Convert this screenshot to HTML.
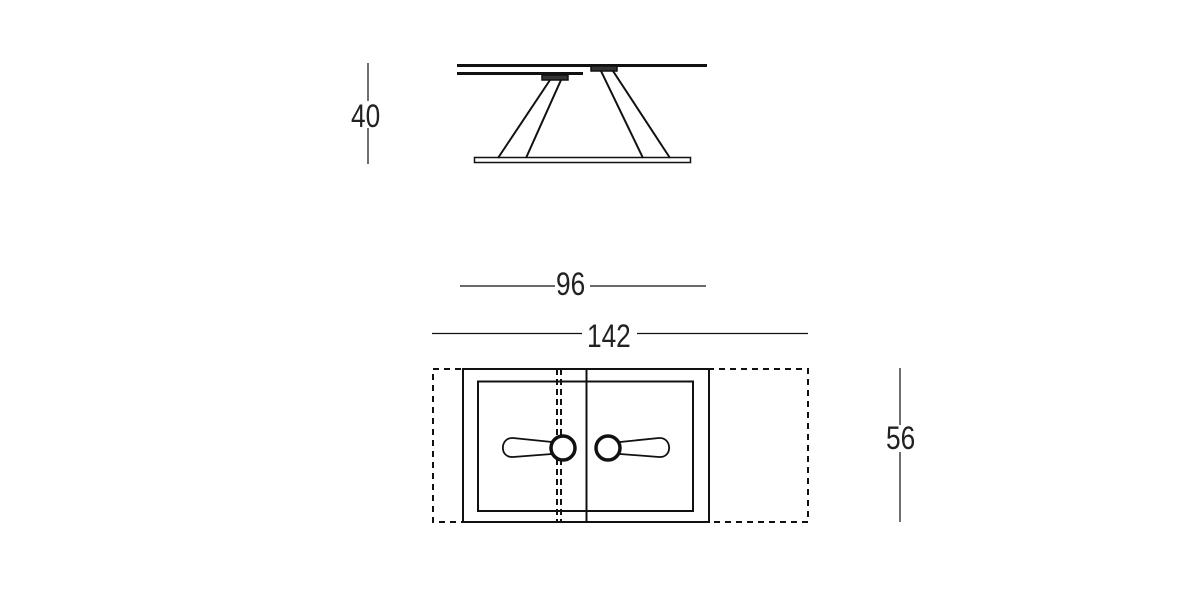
<!DOCTYPE html>
<html><head><style>
html,body{margin:0;padding:0;background:#fff;}
svg{display:block;}
text{font-family:"Liberation Sans",sans-serif;font-size:32px;fill:#222;}
</style></head><body>
<svg width="1200" height="600" viewBox="0 0 1200 600" xmlns="http://www.w3.org/2000/svg">
<g stroke="#111" fill="none">
<!-- side view -->
<line x1="457" y1="65.5" x2="707" y2="65.5" stroke-width="3"/>
<line x1="457" y1="73.5" x2="583" y2="73.5" stroke-width="3"/>
<rect x="591" y="66" width="26" height="5" fill="#333" stroke-width="1.5"/>
<rect x="542" y="75" width="26" height="5" fill="#333" stroke-width="1.5"/>
<line x1="550" y1="80" x2="498" y2="158" stroke-width="2"/>
<line x1="561" y1="80" x2="526" y2="158" stroke-width="2"/>
<line x1="601" y1="71" x2="643" y2="158" stroke-width="2"/>
<line x1="613" y1="71" x2="670" y2="158" stroke-width="2"/>
<rect x="474.5" y="157.5" width="216" height="5" stroke-width="1.5"/>
<!-- dims -->
<line x1="368" y1="63" x2="368" y2="101" stroke-width="1.2"/>
<line x1="368" y1="128" x2="368" y2="164" stroke-width="1.2"/>
<line x1="460" y1="286" x2="555" y2="286" stroke-width="1.2"/>
<line x1="590" y1="286" x2="706" y2="286" stroke-width="1.2"/>
<line x1="432" y1="333.5" x2="582" y2="333.5" stroke-width="1.2"/>
<line x1="637" y1="333.5" x2="808" y2="333.5" stroke-width="1.2"/>
<line x1="900" y1="368" x2="900" y2="425" stroke-width="1.2"/>
<line x1="900" y1="452" x2="900" y2="522" stroke-width="1.2"/>
<!-- top view -->
<rect x="433" y="369" width="375" height="153" stroke-width="2" stroke-dasharray="6,5"/>
<rect x="463" y="369" width="246" height="153" stroke-width="2"/>
<rect x="478" y="381.5" width="215" height="129.5" stroke-width="2"/>
<line x1="557" y1="369" x2="557" y2="522" stroke-width="2" stroke-dasharray="6,4"/>
<line x1="561" y1="369" x2="561" y2="522" stroke-width="2" stroke-dasharray="6,4"/>
<line x1="586.5" y1="369" x2="586.5" y2="522" stroke-width="2"/>
<path d="M552,442 L513,438 C500,437 499,458 513,457 L552,454" stroke-width="1.8" fill="#fff"/>
<path d="M620,442 L659,438 C672,437 673,458 659,457 L620,454" stroke-width="1.8" fill="#fff"/>
<circle cx="563" cy="448" r="12" stroke-width="3.5" fill="#fff"/>
<circle cx="608" cy="448" r="12" stroke-width="3.5" fill="#fff"/>
</g>
<text transform="translate(351,127) scale(0.82,1)">40</text>
<text transform="translate(556,295) scale(0.82,1)">96</text>
<text transform="translate(587,347) scale(0.82,1)">142</text>
<text transform="translate(886,449) scale(0.82,1)">56</text>
</svg>
</body></html>
